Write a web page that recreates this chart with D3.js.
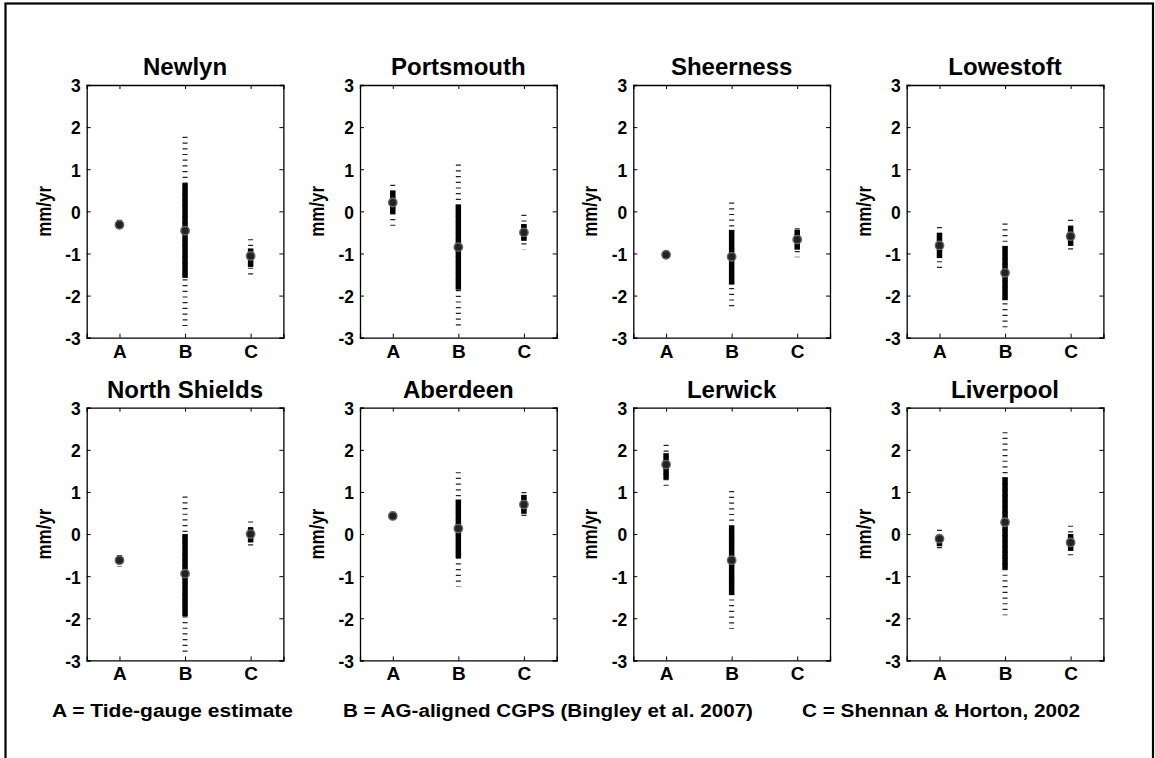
<!DOCTYPE html>
<html><head><meta charset="utf-8">
<script src="https://cdn.jsdelivr.net/npm/d3@7"></script>
<style>body{margin:0;background:#fff}svg{display:block}text{font-family:"Liberation Sans",Arial,sans-serif;font-weight:bold;fill:#000}</style>
</head><body><svg id="c" width="1155" height="758"></svg>
<script>
const stations = ["Newlyn","Portsmouth","Sheerness","Lowestoft","North Shields","Aberdeen","Lerwick","Liverpool"];
const methods = ["A","B","C"];
const yTicks = [-3,-2,-1,0,1,2,3];
// central estimates [A,B,C] (mm/yr); null = no estimate
const centre = [
  [-0.32,-0.46,-1.06],
  [0.21,-0.85,-0.50],
  [-1.03,-1.08,-0.67],
  [-0.81,-1.46,-0.59],
  [-0.62,-0.94,0.00],
  [0.43,0.13,0.70],
  [1.65,-0.62,null],
  [-0.11,0.28,-0.20]
];
// inner (thick) range
const innerLo = [
  [-0.42,-1.58,-1.32],[-0.06,-1.86,-0.70],[-1.10,-1.74,-0.91],[-1.11,-2.11,-0.82],
  [-0.70,-1.95,-0.20],[0.36,-0.57,0.48],[1.30,-1.45,null],[-0.29,-0.84,-0.40]
];
const innerHi = [
  [-0.22,0.67,-0.88],[0.49,0.16,-0.30],[-0.96,-0.44,-0.44],[-0.51,-0.82,-0.35],
  [-0.54,0.00,0.15],[0.50,0.82,0.93],[1.92,0.20,null],[-0.02,1.35,0.00]
];
// outer (dashed) range
const outerLo = [
  [-0.45,-2.72,-1.50],[-0.34,-2.81,-0.90],[-1.20,-2.35,-1.09],[-1.35,-2.75,-0.98],
  [-0.78,-2.90,-0.38],[0.33,-1.25,0.33],[1.05,-2.25,null],[-0.43,-1.93,-0.60]
];
const outerHi = [
  [-0.20,1.77,-0.66],[0.63,1.11,-0.08],[-0.95,0.21,-0.40],[-0.37,-0.29,-0.20],
  [-0.50,0.89,0.30],[0.53,1.47,1.00],[2.12,1.02,null],[0.10,2.42,0.20]
];
const footer = ["A = Tide-gauge estimate","B = AG-aligned CGPS (Bingley et al. 2007)","C = Shennan & Horton, 2002"];

const svg = d3.select("#c");
svg.append("rect").attr("x",5.5).attr("y",3.5).attr("width",1147.5).attr("height",780)
  .attr("fill","none").attr("stroke","#000").attr("stroke-width",2.2);

const pw = 196.7, ph = 252.7;
const lefts = [86.7,360,633.3,906.7];
const tops = [85,407.7];

stations.forEach((name,i)=>{
  const col = i%4, row = Math.floor(i/4);
  const g = svg.append("g").attr("transform",`translate(${lefts[col]},${tops[row]})`);
  const x = d3.scalePoint().domain(methods).range([0,pw]).padding(0.5);
  const y = d3.scaleLinear().domain([-3,3]).range([ph,0]);

  const gl = g.append("g").call(d3.axisLeft(y).tickValues(yTicks).tickSize(-4).tickPadding(6).tickFormat(d=>String(d)));
  const gr = g.append("g").attr("transform",`translate(${pw},0)`).call(d3.axisRight(y).tickValues(yTicks).tickSize(-4).tickFormat(""));
  const gb = g.append("g").attr("transform",`translate(0,${ph})`).call(d3.axisBottom(x).tickSize(-4).tickPadding(6));
  const gt = g.append("g").call(d3.axisTop(x).tickSize(-4).tickFormat(""));
  [gl,gr,gb,gt].forEach(a=>{
    a.select(".domain").attr("stroke","#000").attr("stroke-width",1.3);
    a.selectAll(".tick line").attr("stroke","#000").attr("stroke-width",1);
    a.selectAll("text").attr("font-size",19).attr("font-family","Liberation Sans, Arial, sans-serif").attr("font-weight","bold").attr("fill","#000");
  });
  gl.selectAll("text").attr("transform","scale(0.92,1)").attr("x",-6/0.92).attr("dy","0.36em");
  gb.selectAll("text").attr("dy","0.74em");

  g.append("text").attr("x",pw/2).attr("y",-10).attr("text-anchor","middle").attr("font-size",24)
    .attr("font-family","Liberation Sans, Arial, sans-serif").text(name);
  g.append("text").attr("transform",`translate(-36,${ph/2}) rotate(-90)`).attr("text-anchor","middle")
    .attr("font-size",21).attr("textLength",51).attr("lengthAdjust","spacingAndGlyphs").text("mm/yr");

  methods.forEach((m,j)=>{
    if(centre[i][j]===null) return;
    const cx = x(m);
    g.append("line").attr("x1",cx).attr("x2",cx).attr("y1",y(outerHi[i][j])).attr("y2",y(outerLo[i][j]))
      .attr("stroke","#222").attr("stroke-width",5).attr("stroke-dasharray","1.2,4.5");
    g.append("line").attr("x1",cx).attr("x2",cx).attr("y1",y(innerHi[i][j])).attr("y2",y(innerLo[i][j]))
      .attr("stroke","#000").attr("stroke-width",5.5);
    g.append("circle").attr("cx",cx).attr("cy",y(centre[i][j])).attr("r",4.2)
      .attr("fill","#222").attr("stroke","#666").attr("stroke-width",1.4);
  });
});

const fx = [52,343,802];
const fw = [241,410,278];
footer.forEach((t,k)=>{
  svg.append("text").attr("x",fx[k]).attr("y",717).attr("font-size",18)
    .attr("textLength",fw[k]).attr("lengthAdjust","spacingAndGlyphs").text(t);
});
</script></body></html>
